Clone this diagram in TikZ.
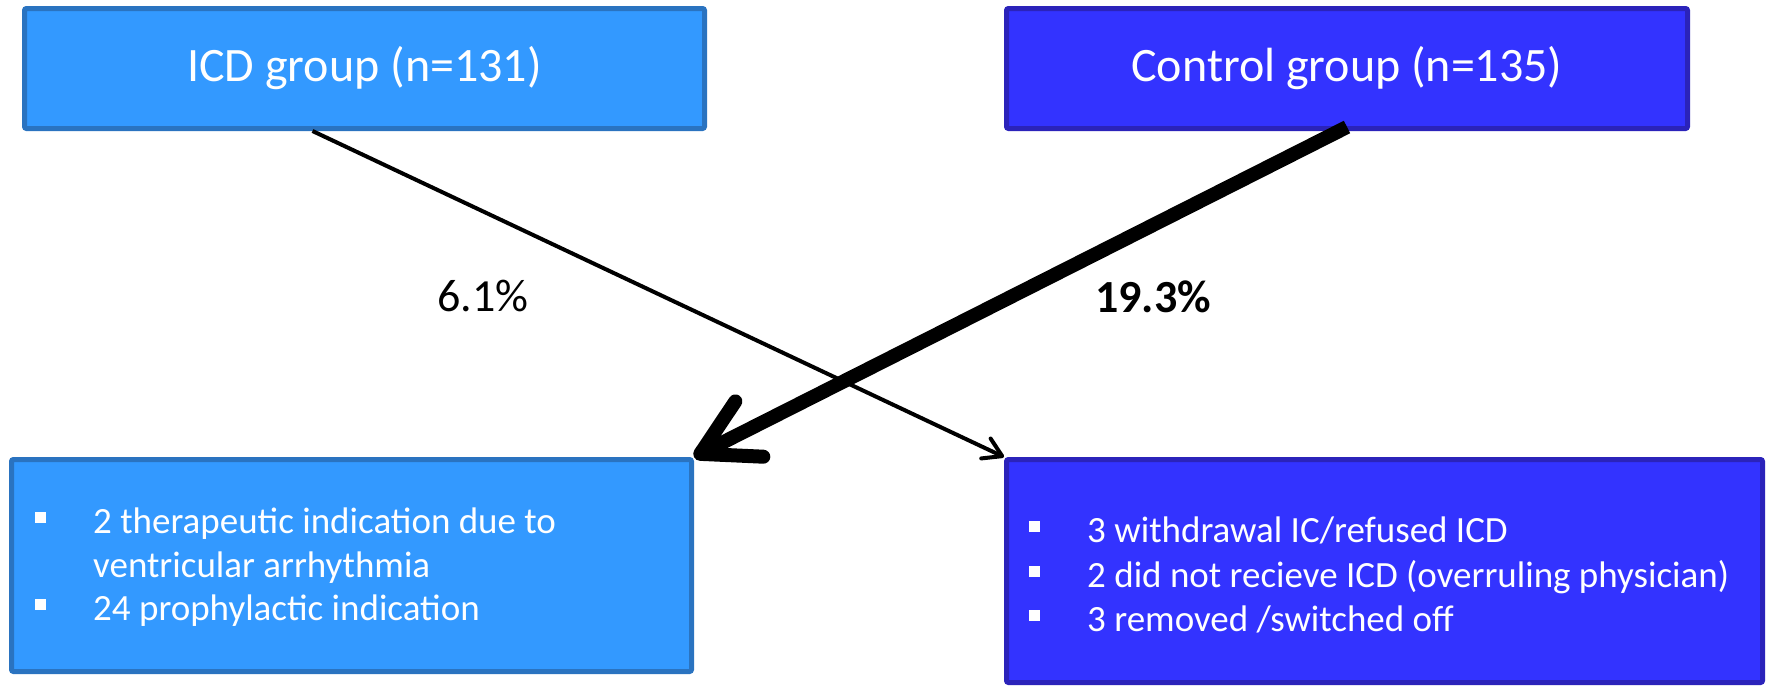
\documentclass[tikz,border=0pt]{standalone}
\usepackage{fontspec}
\setmainfont{Carlito}
\usetikzlibrary{arrows.meta}
\definecolor{lblue}{HTML}{3399FF}
\definecolor{lbord}{HTML}{2A73C0}
\definecolor{dblue}{HTML}{3333FF}
\definecolor{dbord}{HTML}{2B23BA}
\newcommand{\sqbullet}{\makebox[58pt][l]{\raisebox{10pt}{\rule{11pt}{11pt}}}}
\begin{document}
\begin{tikzpicture}[x=1pt,y=-1pt,
  box/.style={draw, line width=5pt, rounded corners=2pt, inner sep=0pt},
  lightbox/.style={box, fill=lblue, draw=lbord},
  darkbox/.style={box, fill=dblue, draw=dbord},
  title/.style={text=white, font=\fontsize{48}{58}\selectfont},
  item/.style={anchor=base west, inner sep=0pt, text=white, font=\fontsize{37}{44}\selectfont},
  pct/.style={anchor=base west, inner sep=0pt, font=\fontsize{46}{55}\selectfont},
  thinarrow/.style={line width=4pt, -{Straight Barb[length=18pt,width=22pt,round]}},
  thickarrow/.style={line width=14pt, -{Straight Barb[length=55pt,width=62pt,round]}}
]
\useasboundingbox (0,0) rectangle (1770,688);
\node[lightbox, title, minimum width=680pt, minimum height=120pt] (tl) at (364.5,68.5) {ICD group (n=131)};
\node[darkbox, title, minimum width=681pt, minimum height=120pt] (tr) at (1347,68.5) {Control group (n=135)};
\node[lightbox, minimum width=680pt, minimum height=212pt] (bl) at (351.5,565.5) {};
\node[darkbox, minimum width=756pt, minimum height=223pt] (br) at (1384.5,571) {};

\node[item] (bl1) at (35,533) {\sqbullet 2 therapeutic indication due to};
\node[item] (bl2) at (93,577) {ventricular arrhythmia};
\node[item] (bl3) at (35,620) {\sqbullet 24 prophylactic indication};
\node[item] (br1) at (1029,542) {\sqbullet 3 withdrawal IC/refused ICD};
\node[item] (br2) at (1029,587) {\sqbullet 2 did not recieve ICD (overruling physician)};
\node[item] (br3) at (1029,631) {\sqbullet 3 removed /switched off};

\node[pct] (p1) at (437,311) {6.1\%};
\node[pct, font=\fontsize{46}{55}\selectfont\bfseries] (p2) at (1095,312) {19.3\%};

\draw[thinarrow] ([xshift=-52pt]tl.south) -- (br.north west);
\draw[thickarrow] ([yshift=4pt]tr.south) -- (bl.north east);
\end{tikzpicture}
\end{document}
